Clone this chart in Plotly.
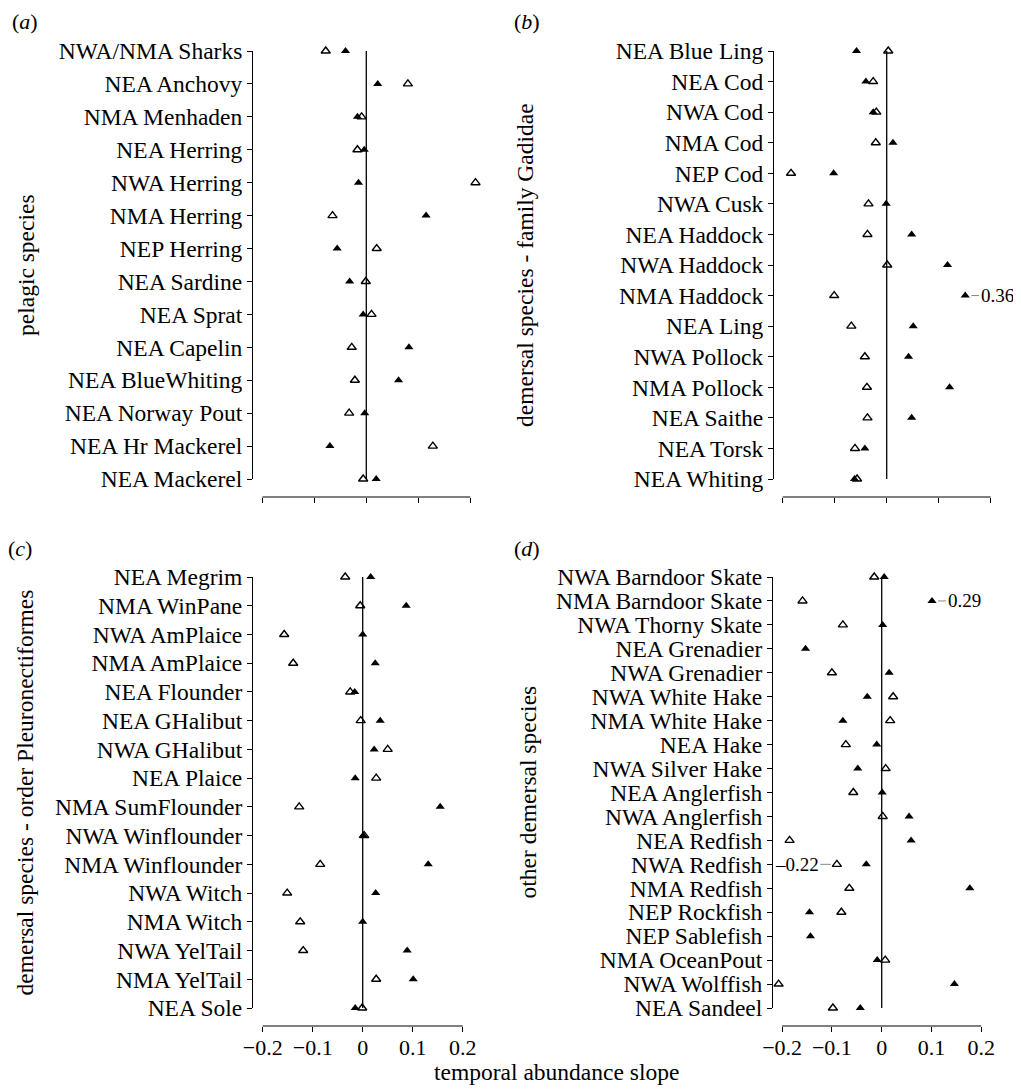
import plotly.graph_objects as go

# ---------------- data ----------------
# panel (a) pelagic species
a_names = ["NWA/NMA Sharks", "NEA Anchovy", "NMA Menhaden", "NEA Herring", "NWA Herring",
           "NMA Herring", "NEP Herring", "NEA Sardine", "NEA Sprat", "NEA Capelin",
           "NEA BlueWhiting", "NEA Norway Pout", "NEA Hr Mackerel", "NEA Mackerel"]
a_filled = [-0.040, 0.022, -0.017, -0.004, -0.015, 0.115, -0.056, -0.032, -0.006, 0.082,
            0.062, -0.003, -0.070, 0.019]
a_open = [-0.078, 0.080, -0.009, -0.017, 0.210, -0.065, 0.020, -0.001, 0.010, -0.028,
          -0.022, -0.033, 0.128, -0.006]

# panel (b) demersal species - family Gadidae
b_names = ["NEA Blue Ling", "NEA Cod", "NWA Cod", "NMA Cod", "NEP Cod", "NWA Cusk",
           "NEA Haddock", "NWA Haddock", "NMA Haddock", "NEA Ling", "NWA Pollock",
           "NMA Pollock", "NEA Saithe", "NEA Torsk", "NEA Whiting"]
b_filled = [-0.058, -0.040, -0.026, 0.012, -0.102, -0.001, 0.048, 0.117, 0.36, 0.051,
            0.042, 0.121, 0.048, -0.042, -0.062]
b_open = [0.003, -0.026, -0.020, -0.021, -0.184, -0.035, -0.037, 0.001, -0.101, -0.068,
          -0.042, -0.038, -0.037, -0.061, -0.057]

# panel (c) demersal species - order Pleuronectiformes
c_names = ["NEA Megrim", "NMA WinPane", "NWA AmPlaice", "NMA AmPlaice", "NEA Flounder",
           "NEA GHalibut", "NWA GHalibut", "NEA Plaice", "NMA SumFlounder", "NWA Winflounder",
           "NMA Winflounder", "NWA Witch", "NMA Witch", "NWA YelTail", "NMA YelTail", "NEA Sole"]
c_filled = [0.016, 0.087, 0.000, 0.025, -0.016, 0.035, 0.023, -0.015, 0.155, 0.001,
            0.131, 0.026, 0.000, 0.089, 0.101, -0.015]
c_open = [-0.035, -0.005, -0.157, -0.139, -0.025, -0.004, 0.050, 0.027, -0.127, 0.003,
          -0.085, -0.151, -0.125, -0.119, 0.027, -0.001]

# panel (d) other demersal species
d_names = ["NWA Barndoor Skate", "NMA Barndoor Skate", "NWA Thorny Skate", "NEA Grenadier",
           "NWA Grenadier", "NWA White Hake", "NMA White Hake", "NEA Hake", "NWA Silver Hake",
           "NEA Anglerfish", "NWA Anglerfish", "NEA Redfish", "NWA Redfish", "NMA Redfish",
           "NEP Rockfish", "NEP Sablefish", "NMA OceanPout", "NWA Wolffish", "NEA Sandeel"]
d_filled = [0.005, 0.29, 0.002, -0.153, 0.015, -0.029, -0.078, -0.010, -0.048, 0.001,
            0.055, 0.059, -0.031, 0.177, -0.145, -0.143, -0.009, 0.146, -0.043]
d_open = [-0.015, -0.159, -0.078, None, -0.100, 0.023, 0.017, -0.072, 0.008, -0.057,
          0.002, -0.185, -0.22, -0.065, -0.081, None, 0.007, -0.207, -0.098]

# values beyond the axis are drawn at a break position and labelled
# (panel, series, category) -> break position on axis
BREAKS = {
    ("b", "filled", "NMA Haddock"): 0.151,
    ("d", "filled", "NMA Barndoor Skate"): 0.101,
    ("d", "open", "NWA Redfish"): -0.090,
}

x_ticks = [-0.2, -0.1, 0, 0.1, 0.2]
x_ticktext = ["\u22120.2", "\u22120.1", "0", "0.1", "0.2"]

# ---------------- layout geometry (page pixels) ----------------
PAGE_W, PAGE_H = 1021, 1089
OFF = 8                      # default page body margin around the figure
W, H = PAGE_W - OFF, PAGE_H - OFF
FONT = "Liberation Serif"

panels = [
    dict(key="a", names=a_names, filled=a_filled, open=a_open, title="pelagic species",
         L=253, R=500, zero=366.3, ppu=520, top=51, bot=479, axis_y=497,
         labels=False, title_x=26, letter_xy=(25, 21)),
    dict(key="b", names=b_names, filled=b_filled, open=b_open,
         title="demersal species - family Gadidae",
         L=774, R=1015, zero=886.7, ppu=520, top=51, bot=479, axis_y=497,
         labels=False, title_x=525, letter_xy=(527, 21)),
    dict(key="c", names=c_names, filled=c_filled, open=c_open,
         title="demersal species - order Pleuronectiformes",
         L=253, R=500, zero=362.7, ppu=500, top=577, bot=1008, axis_y=1026,
         labels=True, title_x=24, letter_xy=(20, 548)),
    dict(key="d", names=d_names, filled=d_filled, open=d_open, title="other demersal species",
         L=773, R=1015, zero=881.7, ppu=498, top=577, bot=1008, axis_y=1026,
         labels=True, title_x=527, letter_xy=(527, 548)),
]


def fx(px):
    return (px - OFF) / W


def fy(py):
    return 1 - (py - OFF) / H


fig = go.Figure()
layout = dict(
    template="none",
    width=W, height=H, margin=dict(l=0, r=0, t=0, b=0, pad=0, autoexpand=False),
    paper_bgcolor="white", plot_bgcolor="white", showlegend=False,
    font=dict(family=FONT, size=23, color="black"),
)
shapes, annotations = [], []

for i, p in enumerate(panels):
    n = len(p["names"])
    sfx = "" if i == 0 else str(i + 1)
    xa, ya = "x" + sfx, "y" + sfx
    idx = list(range(n))

    def disp(series, vals):
        out = []
        for name, v in zip(p["names"], vals):
            out.append(BREAKS.get((p["key"], series, name), v))
        return out

    fig.add_trace(go.Scatter(
        x=disp("filled", p["filled"]), y=idx, xaxis=xa, yaxis=ya, mode="markers",
        cliponaxis=False,
        marker=dict(symbol="triangle-up", size=8, color="black", line=dict(width=0)),
        hoverinfo="skip"))
    fig.add_trace(go.Scatter(
        x=disp("open", p["open"]), y=idx, xaxis=xa, yaxis=ya, mode="markers",
        cliponaxis=False,
        marker=dict(symbol="triangle-up-open", size=8, color="black", line=dict(width=1.4)),
        hoverinfo="skip"))

    xr = [(p["L"] - p["zero"]) / p["ppu"], (p["R"] - p["zero"]) / p["ppu"]]
    layout["xaxis" + sfx] = dict(
        domain=[fx(p["L"]), fx(p["R"])], range=xr, anchor="free", position=fy(p["axis_y"]),
        showline=False, showgrid=False, zeroline=False, ticks="outside", ticklen=5,
        tickwidth=1, tickcolor="black", tickvals=x_ticks, ticktext=x_ticktext,
        showticklabels=p["labels"], tickfont=dict(family=FONT, size=22), fixedrange=True,
        automargin=False, ticklabelstandoff=-3)
    layout["yaxis" + sfx] = dict(
        domain=[fy(p["bot"]), fy(p["top"])], range=[n - 1, 0], anchor=xa,
        showline=True, linecolor="black", linewidth=1, showgrid=False, zeroline=False,
        ticks="outside", ticklen=5, tickwidth=1, tickcolor="black",
        tickvals=idx, ticktext=p["names"], tickfont=dict(family=FONT, size=23.5),
        fixedrange=True, automargin=False)

    # x axis line from -0.2 to 0.2
    shapes.append(dict(type="line", xref=xa, yref="paper", x0=x_ticks[0], x1=x_ticks[-1],
                       y0=fy(p["axis_y"]), y1=fy(p["axis_y"]),
                       line=dict(color="black", width=1)))
    # zero reference line
    shapes.append(dict(type="line", xref=xa, yref=ya, x0=0, x1=0, y0=0, y1=n - 1,
                       line=dict(color="black", width=1.3)))

    # y-axis title
    annotations.append(dict(text=p["title"], xref="paper", yref="paper",
                            x=fx(p["title_x"]), y=fy((p["top"] + p["bot"]) / 2),
                            textangle=-90, showarrow=False, xanchor="center", yanchor="middle",
                            font=dict(family=FONT, size=23.5)))
    # panel letter
    annotations.append(dict(text="(<i>%s</i>)" % p["key"], xref="paper", yref="paper",
                            x=fx(p["letter_xy"][0]), y=fy(p["letter_xy"][1]),
                            showarrow=False, xanchor="center", yanchor="middle",
                            font=dict(family=FONT, size=22)))

    # labels of values beyond the axis
    for series, vals in (("filled", p["filled"]), ("open", p["open"])):
        for j, (name, v) in enumerate(zip(p["names"], vals)):
            key = (p["key"], series, name)
            if key in BREAKS:
                txt = ("%.2f" % v).replace("-", "\u2013")
                ax = 32 if v > 0 else -40
                annotations.append(dict(
                    text=txt, x=BREAKS[key], y=j, xref=xa, yref=ya, showarrow=True,
                    arrowhead=0, arrowwidth=1, arrowcolor="#888888", ax=ax, ay=0,
                    standoff=6, font=dict(family=FONT, size=19)))

annotations.append(dict(text="temporal abundance slope", xref="paper", yref="paper",
                        x=fx(556), y=fy(1072), showarrow=False, xanchor="center",
                        yanchor="middle", font=dict(family=FONT, size=23.5)))

layout["shapes"] = shapes
layout["annotations"] = annotations
fig.update_layout(**layout)
fig.write_html("out.html")
